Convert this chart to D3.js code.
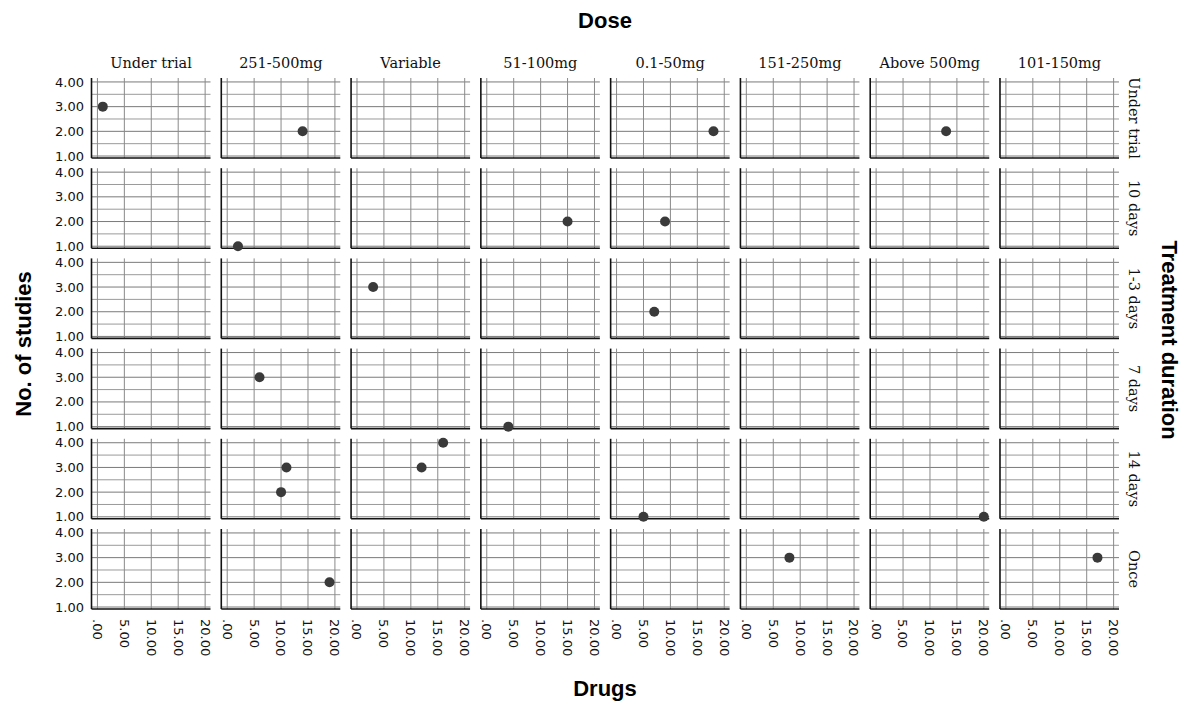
<!DOCTYPE html>
<html>
<head>
<meta charset="utf-8">
<script src="https://cdn.jsdelivr.net/npm/d3@7"></script>
<style>
  body { margin: 0; background: #fff; }
  svg { display: block; }
</style>
</head>
<body>
<svg id="chart" width="1189" height="702"></svg>
<script>
// facet categories
const doses = ['Under trial', '251-500mg', 'Variable', '51-100mg', '0.1-50mg', '151-250mg', 'Above 500mg', '101-150mg'];
const durations = ['Under trial', '10 days', '1-3 days', '7 days', '14 days', 'Once'];

// one entry per point
const pointDuration = ['Under trial', 'Under trial', 'Under trial', 'Under trial',
    '10 days', '10 days', '10 days', '1-3 days', '1-3 days', '7 days', '7 days',
    '14 days', '14 days', '14 days', '14 days', '14 days', '14 days',
    'Once', 'Once', 'Once'];
const pointDose = ['Under trial', '251-500mg', '0.1-50mg', 'Above 500mg',
    '251-500mg', '51-100mg', '0.1-50mg', 'Variable', '0.1-50mg', '251-500mg', '51-100mg',
    '251-500mg', '251-500mg', 'Variable', 'Variable', '0.1-50mg', 'Above 500mg',
    '251-500mg', '151-250mg', '101-150mg'];
const drugs = [1, 14, 18, 13, 2, 15, 9, 3, 7, 6, 4, 11, 10, 12, 16, 5, 20, 19, 8, 17];
const studies = [3, 2, 2, 2, 1, 2, 2, 3, 2, 3, 1, 3, 2, 3, 4, 1, 1, 2, 3, 3];

const xTicks = [0, 5, 10, 15, 20];
const xTickLabels = ['.00', '5.00', '10.00', '15.00', '20.00'];
const yTicks = [1, 2, 3, 4];
const yTickLabels = ['1.00', '2.00', '3.00', '4.00'];
const yMinor = [1.5, 2.5, 3.5];

var svg = d3.select('#chart');

var col = d3.scaleBand().domain(doses).range([91.5, 1119]).paddingInner(0.083);
var row = d3.scaleBand().domain(durations).range([78, 609]).paddingInner(0.113);

var x = d3.scaleLinear().domain([-1.1, 21]).range([0, col.bandwidth()]);
var y = d3.scaleLinear().domain([0.92, 4.16]).range([row.bandwidth(), 0]);

var sans = 'DejaVu Sans, sans-serif';
var serif = 'DejaVu Serif, serif';

var cells = [];
durations.forEach(function (r) {
    doses.forEach(function (c) { cells.push({row: r, col: c}); });
});

var panel = svg.selectAll('g.panel').data(cells)
    .enter().append('g')
    .attr('class', 'panel')
    .attr('transform', function (d) {
        return 'translate(' + col(d.col) + ',' + row(d.row) + ')';
    });

// grid
panel.selectAll('line.minor').data(yMinor)
    .enter().append('line')
    .attr('x1', 0).attr('x2', col.bandwidth())
    .attr('y1', function (d) { return y(d); })
    .attr('y2', function (d) { return y(d); })
    .attr('stroke', '#9a9a9a');

panel.selectAll('line.hmajor').data(yTicks)
    .enter().append('line')
    .attr('x1', 0).attr('x2', col.bandwidth())
    .attr('y1', function (d) { return y(d); })
    .attr('y2', function (d) { return y(d); })
    .attr('stroke', '#7a7a7a');

panel.selectAll('line.vmajor').data(xTicks)
    .enter().append('line')
    .attr('x1', function (d) { return x(d); })
    .attr('x2', function (d) { return x(d); })
    .attr('y1', 0).attr('y2', row.bandwidth())
    .attr('stroke', '#8a8a8a');

// axis lines
panel.append('line')
    .attr('x1', 0).attr('x2', 0)
    .attr('y1', 0).attr('y2', row.bandwidth())
    .attr('stroke', '#111').attr('stroke-width', 1.6);
panel.append('line')
    .attr('x1', 0).attr('x2', col.bandwidth())
    .attr('y1', row.bandwidth()).attr('y2', row.bandwidth())
    .attr('stroke', '#111').attr('stroke-width', 1.6);

// points
svg.selectAll('circle.pt').data(drugs)
    .enter().append('circle')
    .attr('class', 'pt')
    .attr('cx', function (d, i) { return col(pointDose[i]) + x(d); })
    .attr('cy', function (d, i) { return row(pointDuration[i]) + y(studies[i]); })
    .attr('r', 5)
    .attr('fill', '#3a3a3a');

// y tick labels
durations.forEach(function (r) {
    svg.selectAll(null).data(yTicks)
        .enter().append('text')
        .attr('x', 84)
        .attr('y', function (d) { return row(r) + y(d); })
        .attr('dy', '0.35em')
        .attr('text-anchor', 'end')
        .attr('font-family', sans).attr('font-size', 13)
        .attr('fill', '#111')
        .text(function (d, i) { return yTickLabels[i]; });
});

// x tick labels (bottom row)
var bottom = row(durations[durations.length - 1]) + row.bandwidth();
doses.forEach(function (c) {
    svg.selectAll(null).data(xTicks)
        .enter().append('text')
        .attr('transform', function (d) {
            return 'translate(' + (col(c) + x(d)) + ',' + (bottom + 10) + ') rotate(90)';
        })
        .attr('dy', '0.35em')
        .attr('font-family', sans).attr('font-size', 13)
        .attr('fill', '#111')
        .text(function (d, i) { return xTickLabels[i]; });
});

// facet headers
svg.selectAll('text.colhead').data(doses)
    .enter().append('text')
    .attr('x', function (d) { return col(d) + col.bandwidth() / 2; })
    .attr('y', 68)
    .attr('text-anchor', 'middle')
    .attr('font-family', serif).attr('font-size', 14.5)
    .attr('fill', '#111')
    .text(function (d) { return d; });

svg.selectAll('text.rowhead').data(durations)
    .enter().append('text')
    .attr('transform', function (d) {
        return 'translate(1134,' + (row(d) + row.bandwidth() / 2) + ') rotate(90)';
    })
    .attr('dy', '0.35em')
    .attr('text-anchor', 'middle')
    .attr('font-family', serif).attr('font-size', 14.5)
    .attr('fill', '#111')
    .text(function (d) { return d; });

// titles
var bold = 'Liberation Sans, Arial, sans-serif';
svg.append('text')
    .attr('x', 605).attr('y', 20).attr('dy', '0.35em')
    .attr('text-anchor', 'middle')
    .attr('font-family', bold).attr('font-weight', 'bold').attr('font-size', 22)
    .text('Dose');
svg.append('text')
    .attr('x', 605).attr('y', 688).attr('dy', '0.35em')
    .attr('text-anchor', 'middle')
    .attr('font-family', bold).attr('font-weight', 'bold').attr('font-size', 22)
    .text('Drugs');
svg.append('text')
    .attr('transform', 'translate(23,344) rotate(-90)')
    .attr('dy', '0.35em')
    .attr('text-anchor', 'middle')
    .attr('font-family', bold).attr('font-weight', 'bold').attr('font-size', 22)
    .text('No. of studies');
svg.append('text')
    .attr('transform', 'translate(1170,340) rotate(90)')
    .attr('dy', '0.35em')
    .attr('text-anchor', 'middle')
    .attr('font-family', bold).attr('font-weight', 'bold').attr('font-size', 22)
    .text('Treatment duration');
</script>
</body>
</html>
